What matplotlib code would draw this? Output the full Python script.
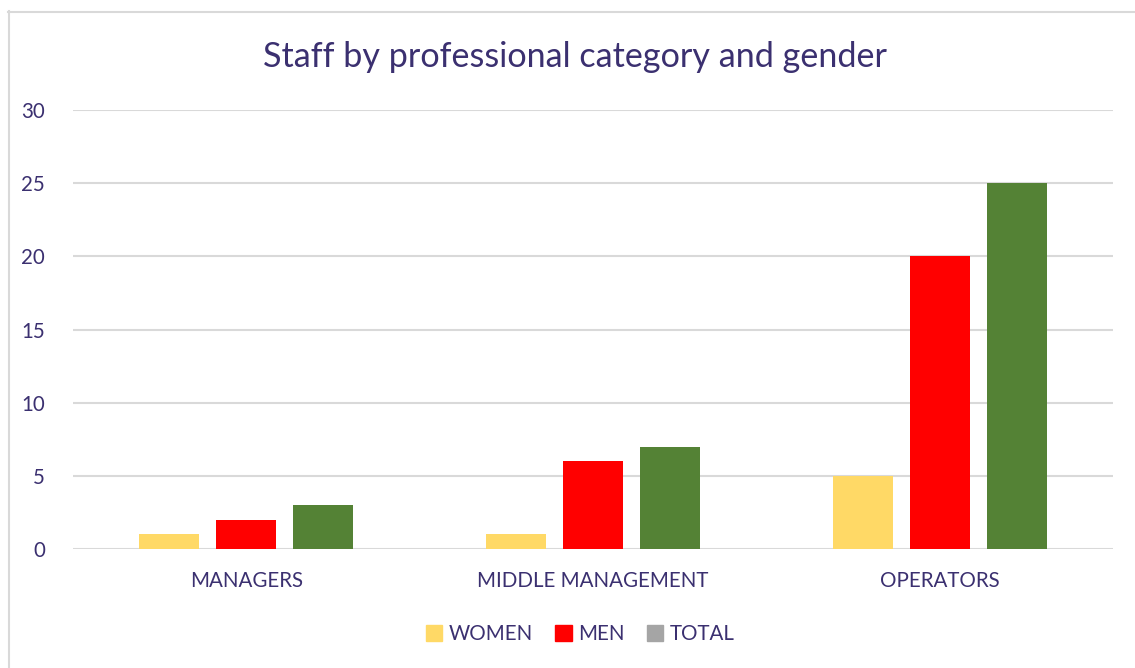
import matplotlib.pyplot as plt
import numpy as np
from matplotlib.lines import Line2D
from matplotlib.patches import Patch

# data
categories = ["MANAGERS", "MIDDLE MANAGEMENT", "OPERATORS"]
women = [1, 1, 5]
men = [2, 6, 20]
total = [3, 7, 25]

text_color = "#3b3070"
grid_color = "#d9d9d9"

plt.rcParams["font.family"] = ["Lato", "DejaVu Sans"]

fig = plt.figure(figsize=(11.35, 6.68), dpi=100)
ax = fig.add_axes([73 / 1135, 1 - 549 / 668, (1113 - 73) / 1135, (549 - 110) / 668])

x = np.arange(len(categories))
w = 0.173
step = 0.222
ax.bar(x - step, women, w, color="#ffd966", zorder=3)
ax.bar(x, men, w, color="#ff0000", zorder=3)
ax.bar(x + step, total, w, color="#548235", zorder=3)

ax.set_xlim(-0.5, 2.5)
ax.set_ylim(0, 30)
ax.set_yticks(range(0, 31, 5))
ax.yaxis.grid(True, color=grid_color, lw=1.5, zorder=0)
ax.set_xticks(x)
ax.set_xticklabels(categories)
for s in ax.spines.values():
    s.set_visible(False)
ax.tick_params(length=0, labelsize=14.8, colors=text_color)
ax.tick_params(axis="x", pad=16)
ax.tick_params(axis="y", pad=20)

fig.text(575 / 1135, 1 - 57 / 668, "Staff by professional category and gender",
         ha="center", va="center", fontsize=24.6, color=text_color)

handles = [Patch(color="#ffd966"), Patch(color="#ff0000"), Patch(color="#a5a5a5")]
fig.legend(handles, ["WOMEN", "MEN", "TOTAL"], loc="center", ncol=3,
           bbox_to_anchor=(580 / 1135, 1 - 634 / 668), frameon=False,
           fontsize=14.8, labelcolor=text_color, handlelength=0.8, handleheight=0.8,
           handletextpad=0.3, columnspacing=1.1)

# outer chart border (light gray), runs off the right and bottom edges
fig.add_artist(Line2D([8.5 / 1135, 8.5 / 1135], [0, 1 - 11 / 668], color=grid_color, lw=1.5))
fig.add_artist(Line2D([8 / 1135, 1], [1 - 11.5 / 668, 1 - 11.5 / 668], color=grid_color, lw=1.5))

fig.savefig("out.png", dpi=100)
